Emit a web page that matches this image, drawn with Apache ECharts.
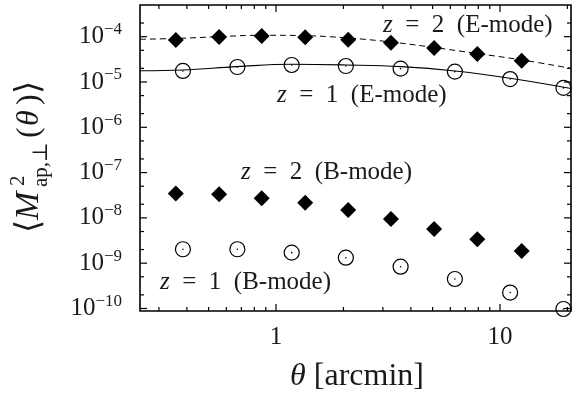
<!DOCTYPE html>
<html>
<head>
<meta charset="utf-8">
<script src="https://cdn.jsdelivr.net/npm/echarts@6/dist/echarts.min.js"></script>
<style>
html, body { margin: 0; padding: 0; background: #fff; }
#chart { width: 578px; height: 394px; }
</style>
</head>
<body>
<div id="chart"></div>
<script>
// theta positions of the measured points [arcmin]
const thetaDiamond = [0.357, 0.557, 0.863, 1.35, 2.10, 3.26, 5.08, 7.92, 12.5];
const thetaCircle = [0.384, 0.672, 1.175, 2.05, 3.60, 6.29, 11.1, 19.2];

// measured <M_ap,perp^2>
const eModeZ2 = [8.45e-5, 9.85e-5, 1.04e-4, 9.7e-5, 8.6e-5, 7.3e-5, 5.6e-5, 4.15e-5, 2.95e-5];
const eModeZ1 = [1.75e-5, 2.14e-5, 2.37e-5, 2.25e-5, 1.97e-5, 1.69e-5, 1.16e-5, 7.4e-6];
const bModeZ2 = [3.46e-8, 3.32e-8, 2.71e-8, 2.17e-8, 1.49e-8, 9.45e-9, 5.69e-9, 3.37e-9, 1.86e-9];
const bModeZ1 = [2.03e-9, 2.03e-9, 1.71e-9, 1.32e-9, 8.37e-10, 4.48e-10, 2.25e-10, 9.75e-11];

// theory curves
const thetaCurveZ2 = [0.247, 0.358, 0.557, 0.866, 1.347, 2.096, 3.262, 5.075, 7.89, 12.54, 20.75];
const curveZ2 = [8.77e-5, 9.13e-5, 1.0e-4, 1.074e-4, 1.052e-4, 9.35e-5, 7.63e-5, 5.77e-5, 4.25e-5, 3.06e-5, 2.0e-5];
const thetaCurveZ1 = [0.247, 0.384, 0.670, 1.179, 2.053, 3.614, 6.30, 11.08, 20.75];
const curveZ1 = [1.77e-5, 1.84e-5, 2.18e-5, 2.46e-5, 2.37e-5, 2.18e-5, 1.75e-5, 1.21e-5, 7.2e-6];

// axes
const xMin = 0.247, xMax = 20.75;
const yMin = 8.8e-11, yMax = 5.0e-4;
const xMajor = [1, 10];
const xLabels = ['1', '10'];
const xMinor = [0.3, 0.4, 0.5, 0.6, 0.7, 0.8, 0.9, 2, 3, 4, 5, 6, 7, 8, 9, 20];
const yMajor = [1e-10, 1e-9, 1e-8, 1e-7, 1e-6, 1e-5, 1e-4];
const yLabels = ['−10', '−9', '−8', '−7', '−6', '−5', '−4'];
const yMinor = [2e-10, 5e-10, 2e-9, 5e-9, 2e-8, 5e-8, 2e-7, 5e-7, 2e-6, 5e-6, 2e-5, 5e-5, 2e-4];

const SERIF = '"Liberation Serif", "DejaVu Serif", serif';
const INK = '#1a1a1a';

function pairs(xs, ys) {
  return xs.map((x, i) => [x, ys[i]]);
}

function tickItem(params, api) {
  const isX = api.value(3) === 0;
  const major = api.value(2) === 1;
  const len = major ? 7 : 4;
  const style = { stroke: '#000', lineWidth: 1.2 };
  if (isX) {
    const b = api.coord([api.value(0), yMin]);
    const t = api.coord([api.value(0), yMax]);
    return {
      type: 'group',
      children: [
        { type: 'line', shape: { x1: b[0], y1: b[1], x2: b[0], y2: b[1] - len }, style: style },
        { type: 'line', shape: { x1: t[0], y1: t[1], x2: t[0], y2: t[1] + len }, style: style },
      ],
    };
  }
  const l = api.coord([xMin, api.value(1)]);
  const r = api.coord([xMax, api.value(1)]);
  return {
    type: 'group',
    children: [
      { type: 'line', shape: { x1: l[0], y1: l[1], x2: l[0] + len, y2: l[1] }, style: style },
      { type: 'line', shape: { x1: r[0], y1: r[1], x2: r[0] - len, y2: r[1] }, style: style },
    ],
  };
}

const tickData = []
  .concat(xMajor.map((v) => [v, yMin, 1, 0]))
  .concat(xMinor.map((v) => [v, yMin, 0, 0]))
  .concat(yMajor.map((v) => [xMin, v, 1, 1]))
  .concat(yMinor.map((v) => [xMin, v, 0, 1]));

function xLabelItem(params, api) {
  const p = api.coord([api.value(0), yMin]);
  return {
    type: 'text',
    x: p[0],
    y: p[1] + 26,
    style: {
      text: xLabels[api.value(2)],
      fontSize: 25, fontFamily: SERIF, fill: INK,
      align: 'center', verticalAlign: 'middle',
    },
  };
}

function yLabelItem(params, api) {
  const p = api.coord([xMin, api.value(1)]);
  return {
    type: 'text',
    x: p[0] - 18,
    y: p[1],
    style: {
      text: '10{e|' + yLabels[api.value(2)] + '}',
      fontSize: 25, fontFamily: SERIF, fill: INK, lineHeight: 31,
      align: 'right', verticalAlign: 'middle',
      rich: {
        e: { fontSize: 17, fontFamily: SERIF, fill: INK, lineHeight: 17, verticalAlign: 'top' },
      },
    },
  };
}

function note(text, x, y) {
  return {
    type: 'text',
    x: x, y: y,
    style: {
      text: text,
      fontSize: 25, fontFamily: SERIF, fill: INK,
      align: 'left', verticalAlign: 'middle',
      rich: {
        i: { fontSize: 25, fontFamily: SERIF, fontStyle: 'italic', fill: INK },
      },
    },
  };
}

function nameText(text, lx, cx, size, italic) {
  return {
    type: 'text',
    x: lx, y: cx,
    style: {
      text: text,
      fontSize: size, fontFamily: SERIF, fontStyle: italic ? 'italic' : 'normal', fill: INK,
      align: 'left', verticalAlign: 'middle',
    },
  };
}

const circleStyle = { color: 'rgba(0,0,0,0)', borderColor: '#000', borderWidth: 1.2, opacity: 1 };
const diamondStyle = { color: '#000', opacity: 1 };

const option = {
  animation: false,
  backgroundColor: '#fff',
  grid: {
    left: 140, right: 7, top: 5, bottom: 83,
    show: true, borderColor: '#000', borderWidth: 1.6,
  },
  xAxis: {
    type: 'log', logBase: 10, min: xMin, max: xMax,
    axisLine: { show: false }, axisTick: { show: false },
    axisLabel: { show: false }, splitLine: { show: false },
  },
  yAxis: {
    type: 'log', logBase: 10, min: yMin, max: yMax,
    axisLine: { show: false }, axisTick: { show: false },
    axisLabel: { show: false }, splitLine: { show: false },
  },
  graphic: [
    note('{i|z}  =  2  (E-mode)', 383, 25),
    note('{i|z}  =  1  (E-mode)', 277, 95),
    note('{i|z}  =  2  (B-mode)', 241, 172),
    note('{i|z}  =  1  (B-mode)', 160, 282),
    {
      type: 'text',
      x: 357, y: 377,
      style: {
        text: '{i|θ} [arcmin]',
        fontSize: 32, fontFamily: SERIF, fill: INK,
        align: 'center', verticalAlign: 'middle',
        rich: { i: { fontSize: 32, fontFamily: SERIF, fontStyle: 'italic', fill: INK } },
      },
    },
    {
      type: 'group',
      x: 0, y: 233,
      rotation: Math.PI / 2,
      children: [
        nameText('⟨', 0, 30, 34, false),
        nameText('M', 13, 29, 34, true),
        nameText('2', 47, 18, 21, false),
        nameText('ap,⊥', 46, 41, 21, false),
        nameText('(', 95, 30, 32, false),
        nameText('θ', 107, 30, 32, true),
        nameText(')', 128, 30, 32, false),
        nameText('⟩', 139, 30, 34, false),
      ],
    },
  ],
  series: [
    {
      type: 'line', data: pairs(thetaCurveZ2, curveZ2), smooth: 0.4,
      symbol: 'none', lineStyle: { color: '#000', width: 1, type: [6, 4] }, z: 2,
    },
    {
      type: 'line', data: pairs(thetaCurveZ1, curveZ1), smooth: 0.4,
      symbol: 'none', lineStyle: { color: '#000', width: 1.1 }, z: 2,
    },
    {
      type: 'scatter', data: pairs(thetaDiamond, eModeZ2), symbol: 'diamond',
      symbolSize: 16, itemStyle: diamondStyle, z: 3,
    },
    {
      type: 'scatter', data: pairs(thetaDiamond, bModeZ2), symbol: 'diamond',
      symbolSize: 16, itemStyle: diamondStyle, z: 3,
    },
    {
      type: 'scatter', data: pairs(thetaCircle, eModeZ1), symbol: 'circle',
      symbolSize: 15, itemStyle: circleStyle, z: 3,
    },
    {
      type: 'scatter', data: pairs(thetaCircle, bModeZ1), symbol: 'circle',
      symbolSize: 15, itemStyle: circleStyle, z: 3,
    },
    {
      type: 'scatter', data: pairs(thetaCircle, eModeZ1).concat(pairs(thetaCircle, bModeZ1)),
      symbol: 'circle', symbolSize: 1.6, itemStyle: diamondStyle, z: 4,
    },
    {
      type: 'custom', data: tickData, renderItem: tickItem,
      encode: { x: 0, y: 1 }, z: 5, silent: true,
    },
    {
      type: 'custom', data: xMajor.map((v, i) => [v, yMin, i]), renderItem: xLabelItem,
      encode: { x: 0, y: 1 }, z: 5, silent: true,
    },
    {
      type: 'custom', data: yMajor.map((v, i) => [xMin, v, i]), renderItem: yLabelItem,
      encode: { x: 0, y: 1 }, z: 5, silent: true,
    },
  ],
};

const chart = echarts.init(document.getElementById('chart'));
chart.setOption(option);
</script>
</body>
</html>
